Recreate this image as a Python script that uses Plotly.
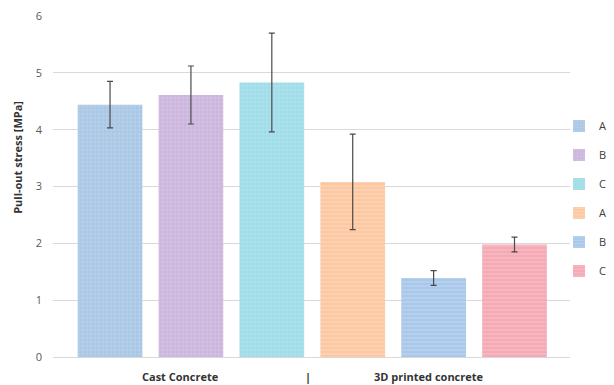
import plotly.graph_objects as go

labels = ["A", "B", "C", "A", "B", "C"]
values = [4.44, 4.61, 4.83, 3.08, 1.39, 1.98]
errors = [0.41, 0.51, 0.87, 0.84, 0.13, 0.13]
colors = ["#a9c6e4", "#cbb5dd", "#9edce7", "#fcc8a2", "#a8c7ea", "#f5a9b4"]
shapes = ["+", "+", "+", "-", "-", "-"]
group_labels = ["Cast Concrete", "|", "3D printed concrete"]
group_pos = [0.865, 2.447, 3.94]
y_title = "Pull-out stress [MPa]"

fig = go.Figure()
for i in range(len(values)):
    fig.add_trace(go.Bar(
        x=[i], y=[values[i]], name=labels[i], width=0.8,
        legendgroup=str(i),
        marker=dict(color=colors[i], line=dict(width=0),
                    pattern=dict(shape=shapes[i], fgcolor="rgba(255,255,255,0.5)",
                                 bgcolor=colors[i], size=4, solidity=0.3,
                                 fillmode="overlay")),
        error_y=dict(type="data", array=[errors[i]], color="#4a4a4a", thickness=1.2, width=3),
    ))

for t, xp in zip(group_labels, group_pos):
    fig.add_annotation(x=xp, xref="x", y=-0.056, yref="paper", text="<b>%s</b>" % t,
                       showarrow=False, font=dict(size=11, color="#333333", family="Open Sans"),
                       yanchor="middle")

fig.add_annotation(x=18, xref="paper", y=0.584, yref="paper", text="<b>%s</b>" % y_title,
                   textangle=-90, showarrow=False, xanchor="center", yanchor="middle",
                   font=dict(size=11, color="#333333", family="Open Sans"))
fig.layout.annotations[-1].update(x=-35/561)

fig.update_layout(
    width=614, height=385,
    margin=dict(l=53, r=0, t=16, b=28, autoexpand=False),
    paper_bgcolor="white", plot_bgcolor="white",
    barmode="overlay",
    font=dict(family="Open Sans", color="#595959"),
    xaxis=dict(domain=[0, 517/561], range=[-0.705, 5.686], showticklabels=False,
               showgrid=False, zeroline=False, showline=True, linecolor="#d9d9d9", ticks=""),
    yaxis=dict(range=[0, 6], dtick=1, showgrid=True, gridcolor="#d9d9d9", zeroline=False,
               tickfont=dict(size=11, color="#595959"), ticklabelstandoff=10),
    legend=dict(x=0.902, y=0.72, xanchor="left", yanchor="top", tracegroupgap=10,
                bgcolor="rgba(0,0,0,0)",
                font=dict(size=11, color="#404040"), itemwidth=30),
    showlegend=True,
)
fig.write_html("out.html")
